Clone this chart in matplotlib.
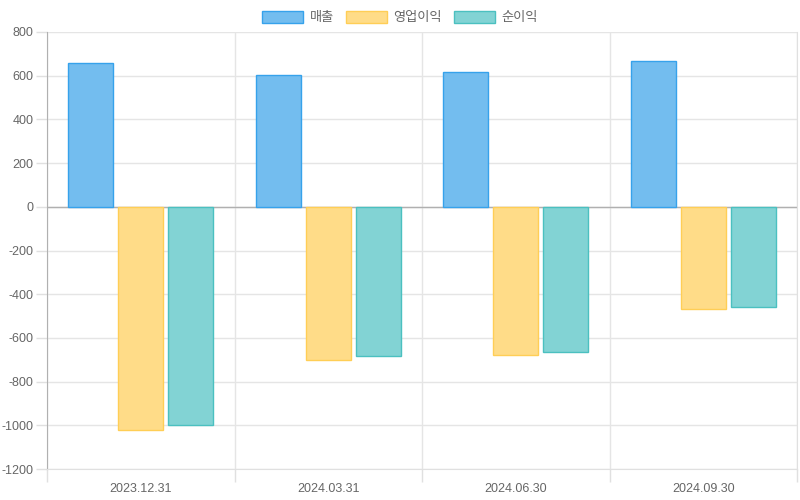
import numpy as np
import matplotlib.pyplot as plt

plt.rcParams['font.family'] = ['Liberation Sans', 'Noto Sans CJK KR', 'DejaVu Sans']
plt.rcParams['axes.unicode_minus'] = False

dates = ['2023.12.31', '2024.03.31', '2024.06.30', '2024.09.30']
series_names = ['매출', '영업이익', '순이익']
sales = [657, 601, 619, 665]
op_profit = [-1022, -699, -677, -466]
net_profit = [-999, -681, -663, -459]

fills = ['#73bdef', '#ffdc88', '#82d3d4']
edges = ['#36a2eb', '#ffce56', '#4bc0c0']

fig = plt.figure(figsize=(8, 5), dpi=100)
ax = fig.add_axes([47 / 800, 31 / 500, 750 / 800, 437 / 500])

x = np.arange(len(dates))
bw = 0.8 / 3 * 0.9
for i, (vals, name) in enumerate(zip([sales, op_profit, net_profit], series_names)):
    ax.bar(x + (i - 1) * 0.8 / 3, vals, width=bw, color=fills[i], edgecolor=edges[i],
           linewidth=1, label=name, zorder=3)

ax.set_xlim(-0.5, 3.5)
ax.set_ylim(-1200, 800)
ax.set_yticks(np.arange(-1200, 801, 200))
ax.set_xticks(x)
ax.set_xticklabels(dates)
ax.set_xticks(np.arange(-0.5, 3.6, 1), minor=True)

ax.tick_params(axis='x', which='major', length=0, pad=10, labelsize=9, labelcolor='#666666')
ax.tick_params(axis='x', which='minor', length=9, color='#e0e0e0', width=1)
ax.tick_params(axis='y', length=8, color='#e0e0e0', width=1, pad=1.5, labelsize=9, labelcolor='#666666')

ax.grid(axis='y', color='#e5e5e5', linewidth=1, zorder=0)
ax.grid(axis='x', which='minor', color='#e5e5e5', linewidth=1, zorder=0)
ax.axhline(0, color='#b0b0b0', linewidth=1, zorder=2)

for side in ['top', 'right', 'bottom']:
    ax.spines[side].set_color('#e0e0e0')
ax.spines['left'].set_color('#b0b0b0')
ax.spines['top'].set_visible(False)

fig.legend(loc='upper center', bbox_to_anchor=(0.5, 1.0), ncol=3, frameon=False,
           prop={'family': ['Noto Sans CJK KR'], 'size': 9.5}, labelcolor='#666666',
           handlelength=3.1, handleheight=0.95, handletextpad=0.5, columnspacing=0.9,
           borderaxespad=0.45)

fig.savefig('out.png', dpi=100)
